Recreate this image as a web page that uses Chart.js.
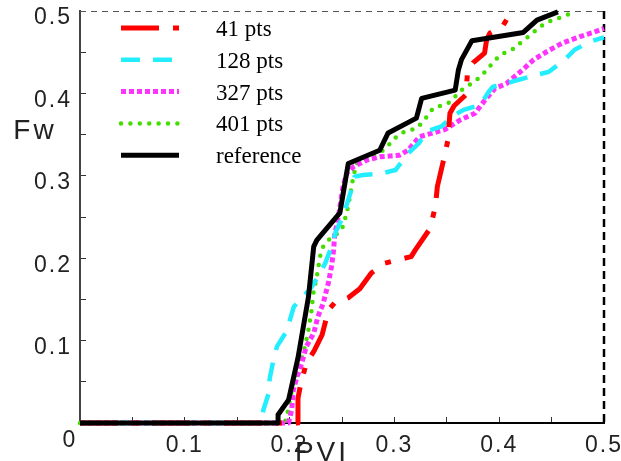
<!DOCTYPE html>
<html>
<head>
<meta charset="utf-8">
<script src="https://cdn.jsdelivr.net/npm/chart.js@4.4.0/dist/chart.umd.min.js"></script>
<style>
  html, body { margin: 0; padding: 0; background: #fff; }
</style>
</head>
<body>
<canvas id="myChart" width="621" height="461"></canvas>
<script>
// curvas Fw vs PVI
const pvi41 = [0, 0.208, 0.208, 0.211, 0.216, 0.224, 0.231, 0.237, 0.243, 0.256, 0.267, 0.278, 0.291, 0.316, 0.320, 0.334, 0.339, 0.341, 0.348, 0.351, 0.353, 0.357, 0.368, 0.370, 0.375, 0.386, 0.388, 0.391, 0.404, 0.412];
const fw41 = [0, 0, 0.030, 0.050, 0.072, 0.089, 0.107, 0.137, 0.146, 0.152, 0.163, 0.182, 0.194, 0.202, 0.210, 0.236, 0.262, 0.287, 0.325, 0.343, 0.376, 0.385, 0.398, 0.428, 0.437, 0.449, 0.465, 0.473, 0.483, 0.500];

const pvi128 = [0, 0.173, 0.175, 0.180, 0.181, 0.185, 0.188, 0.197, 0.204, 0.210, 0.221, 0.229, 0.234, 0.240, 0.244, 0.250, 0.255, 0.261, 0.262, 0.270, 0.288, 0.301, 0.313, 0.323, 0.331, 0.345, 0.355, 0.366, 0.382, 0.390, 0.394, 0.402, 0.417, 0.434, 0.447, 0.461, 0.472, 0.487, 0.500];
const fw128 = [0, 0, 0.016, 0.036, 0.054, 0.079, 0.093, 0.111, 0.141, 0.149, 0.165, 0.182, 0.194, 0.214, 0.232, 0.248, 0.267, 0.291, 0.299, 0.301, 0.303, 0.307, 0.327, 0.339, 0.354, 0.360, 0.372, 0.380, 0.386, 0.402, 0.408, 0.410, 0.416, 0.422, 0.426, 0.439, 0.453, 0.463, 0.468];

const pvi327 = [0, 0.199, 0.202, 0.2035, 0.207, 0.2115, 0.216, 0.223, 0.227, 0.232, 0.237, 0.240, 0.242, 0.243, 0.2465, 0.251, 0.2545, 0.261, 0.2735, 0.286, 0.305, 0.313, 0.324, 0.337, 0.348, 0.363, 0.377, 0.3865, 0.396, 0.407, 0.420, 0.433, 0.4485, 0.461, 0.477, 0.490, 0.500];
const fw327 = [0, 0, 0.016, 0.040, 0.056, 0.072, 0.093, 0.109, 0.129, 0.145, 0.170, 0.190, 0.210, 0.228, 0.250, 0.287, 0.303, 0.311, 0.319, 0.323, 0.325, 0.331, 0.3475, 0.352, 0.356, 0.368, 0.376, 0.392, 0.406, 0.412, 0.426, 0.441, 0.453, 0.4615, 0.469, 0.474, 0.479];

const pvi401 = [0, 0.195, 0.197, 0.2035, 0.210, 0.2147, 0.218, 0.221, 0.2226, 0.226, 0.229, 0.232, 0.237, 0.2497, 0.2545, 0.2576, 0.2608, 0.264, 0.2767, 0.2894, 0.2958, 0.302, 0.310, 0.321, 0.3276, 0.337, 0.3514, 0.3594, 0.3657, 0.3737, 0.380, 0.388, 0.396, 0.404, 0.412, 0.418, 0.426, 0.4326, 0.439, 0.447, 0.456, 0.464, 0.472];
const fw401 = [0, 0, 0.006, 0.048, 0.072, 0.093, 0.113, 0.137, 0.157, 0.178, 0.202, 0.214, 0.222, 0.234, 0.2545, 0.275, 0.299, 0.315, 0.323, 0.331, 0.339, 0.3475, 0.354, 0.3575, 0.366, 0.382, 0.388, 0.398, 0.406, 0.412, 0.418, 0.428, 0.4405, 0.4486, 0.4527, 0.459, 0.467, 0.474, 0.481, 0.487, 0.491, 0.495, 0.499];

const pviRef = [0, 0.189, 0.189, 0.199, 0.208, 0.218, 0.223, 0.226, 0.248, 0.256, 0.286, 0.294, 0.321, 0.326, 0.358, 0.361, 0.364, 0.374, 0.423, 0.436, 0.456];
const fwRef = [0, 0, 0.010, 0.028, 0.079, 0.153, 0.214, 0.222, 0.255, 0.315, 0.331, 0.352, 0.370, 0.394, 0.404, 0.428, 0.441, 0.464, 0.474, 0.489, 0.499];

const nombres = ['41 pts', '128 pts', '327 pts', '401 pts', 'reference'];
const tickLabels = ['0.1', '0.2', '0.3', '0.4', '0.5'];

function puntos(xs, ys) {
    return xs.map((x, i) => ({ x: x, y: ys[i] }));
}

function etiqueta(value) {
    const txt = value.toFixed(1);
    const esDecima = Math.abs(value * 10 - Math.round(value * 10)) < 1e-6;
    return esDecima && tickLabels.includes(txt) ? txt : '';
}

const fuenteTicks = { family: '"Liberation Sans", Arial, sans-serif', size: 23 };

// leyenda dentro del area de trazado
const leyenda = {
    id: 'leyenda',
    afterDatasetsDraw(chart) {
        const ctx = chart.ctx;
        ctx.save();
        ctx.letterSpacing = '0px';
        chart.data.datasets.forEach((ds, i) => {
            const y = 28 + i * 31.8;
            ctx.strokeStyle = ds.borderColor;
            ctx.lineWidth = ds.borderWidth;
            ctx.setLineDash(ds.borderDash || []);
            ctx.lineCap = ds.borderCapStyle || 'butt';
            ctx.beginPath();
            ctx.moveTo(121, y);
            ctx.lineTo(179, y);
            ctx.stroke();
            ctx.fillStyle = '#000';
            ctx.font = '23px "Liberation Serif", "Times New Roman", serif';
            ctx.textBaseline = 'middle';
            ctx.fillText(ds.label, 216, y + 2);
        });
        ctx.restore();
    }
};

// borde superior y derecho punteados
const marco = {
    id: 'marco',
    beforeDatasetsDraw(chart) {
        const { ctx, chartArea: a } = chart;
        ctx.save();
        ctx.lineWidth = 1;
        ctx.strokeStyle = '#555';
        ctx.setLineDash([6, 5]);
        ctx.beginPath();
        ctx.moveTo(a.left, a.top + 0.5);
        ctx.lineTo(a.right, a.top + 0.5);
        ctx.stroke();
        ctx.lineWidth = 2.5;
        ctx.strokeStyle = '#000';
        ctx.setLineDash([8, 5]);
        ctx.beginPath();
        ctx.moveTo(a.right, a.top);
        ctx.lineTo(a.right, a.bottom);
        ctx.stroke();
        ctx.restore();
    }
};

// titulos de ejes y el cero del origen
const rotulos = {
    id: 'rotulos',
    beforeDraw(chart) {
        chart.ctx.letterSpacing = '2px';
    },
    afterDraw(chart) {
        const ctx = chart.ctx;
        const a = chart.chartArea;
        ctx.save();
        ctx.fillStyle = '#222';
        ctx.textAlign = 'center';
        ctx.textBaseline = 'middle';
        ctx.font = '23px "Liberation Sans", Arial, sans-serif';
        ctx.letterSpacing = '2px';
        ctx.fillText('0', a.left - 10, a.bottom + 18);
        ctx.font = '28px "Liberation Sans", Arial, sans-serif';
        ctx.letterSpacing = '3px';
        ctx.fillText('Fw', 35, 131);
        ctx.textBaseline = 'alphabetic';
        ctx.fillText('PVI', 322, 461);
        ctx.restore();
        ctx.letterSpacing = '0px';
    }
};

const comun = { pointRadius: 0, tension: 0, fill: false, borderJoinStyle: 'round', clip: 6 };

const datasets = [
    { ...comun, label: nombres[0], data: puntos(pvi41, fw41), borderColor: '#ff0000', borderWidth: 5, borderDash: [38, 14, 6, 14], order: 1 },
    { ...comun, label: nombres[1], data: puntos(pvi128, fw128), borderColor: '#22eeff', borderWidth: 4.5, borderDash: [19, 13], order: 1 },
    { ...comun, label: nombres[2], data: puntos(pvi327, fw327), borderColor: '#ff33ff', borderWidth: 5, borderDash: [5, 3], order: 1 },
    { ...comun, label: nombres[3], data: puntos(pvi401, fw401), borderColor: '#44dd00', borderWidth: 4.5, borderDash: [0, 9.4], borderCapStyle: 'round', order: 1 },
    { ...comun, label: nombres[4], data: puntos(pviRef, fwRef), borderColor: '#000000', borderWidth: 5, order: 0 }
];

const config = {
    type: 'line',
    data: { datasets },
    options: {
        responsive: false,
        animation: false,
        layout: { padding: { top: 11, right: 17, left: 0, bottom: 0 } },
        plugins: { legend: { display: false }, tooltip: { enabled: false } },
        scales: {
            x: {
                type: 'linear',
                min: 0,
                max: 0.5,
                border: { display: true, color: '#000', width: 2, dash: [7, 4] },
                grid: { drawOnChartArea: false, tickLength: -6, color: '#333', lineWidth: 1 },
                ticks: { stepSize: 0.05, autoSkip: false, maxRotation: 0, padding: 15, font: fuenteTicks, color: '#222', callback: etiqueta },
                afterFit: s => { s.height = 38; s.paddingLeft = 0; s.paddingRight = 0; }
            },
            y: {
                type: 'linear',
                min: 0,
                max: 0.5,
                border: { display: true, color: '#444', width: 2, dash: [6, 2] },
                grid: { drawOnChartArea: false, tickLength: -6, color: '#333', lineWidth: 1 },
                ticks: { stepSize: 0.05, autoSkip: false, padding: 14, labelOffset: 7, font: fuenteTicks, color: '#222', callback: etiqueta },
                afterFit: s => { s.width = 80; s.paddingTop = 0; s.paddingBottom = 0; }
            }
        }
    },
    plugins: [marco, leyenda, rotulos]
};

const myChart = new Chart(document.getElementById('myChart'), config);
</script>
</body>
</html>
